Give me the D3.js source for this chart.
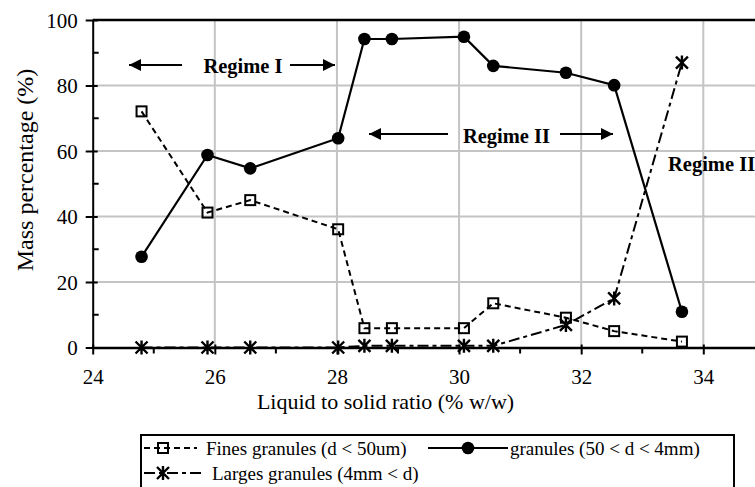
<!DOCTYPE html>
<html>
<head>
<meta charset="utf-8">
<script src="https://cdn.jsdelivr.net/npm/d3@7"></script>
<style>
  html, body { margin: 0; padding: 0; background: #fff; }
  svg { display: block; }
</style>
</head>
<body>
<svg id="chart" width="755" height="487"></svg>
<script>
// Liquid to solid ratio (% w/w) for each granulation run
const ratios = [24.8, 25.88, 26.58, 28.02, 28.45, 28.9, 30.08, 30.56, 31.75, 32.54, 33.65];
// Mass percentage (%) per size class
const fines    = [72.1, 41.2, 45.0, 36.1, 5.9, 5.9, 5.9, 13.5, 9.1, 5.0, 1.8];
const granules = [27.7, 58.8, 54.7, 63.9, 94.2, 94.2, 94.9, 86.0, 83.9, 80.1, 10.9];
const larges   = [0, 0, 0, 0, 0.5, 0.5, 0.5, 0.5, 6.9, 15.0, 87.0];

const xTicks = [24, 26, 28, 30, 32, 34];
const yTicks = [0, 20, 40, 60, 80, 100];
const xMinor = [25, 27, 29, 31, 33, 35];
const yMinor = [10, 30, 50, 70, 90];

const seriesNames = ["Fines granules (d < 50um)", "granules (50 < d < 4mm)", "Larges granules (4mm < d)"];
const regimes = ["Regime I", "Regime II", "Regime III"];

const FONT = '"Liberation Serif"';

const svg = d3.select("#chart");

const plotLeft = 92.7, plotTop = 20, plotBottom = 347.5;
const x = d3.scaleLinear().domain([24, 36]).range([plotLeft, plotLeft + 12 * 61.06]);
const y = d3.scaleLinear().domain([0, 100]).range([plotBottom, plotTop]);

function label(sel, size, weight) {
  return sel.style("font-family", FONT).style("font-size", size + "px")
    .style("font-weight", weight || "normal").attr("fill", "#000");
}

// grid
const grid = svg.append("g").attr("stroke", "#c4c4c4").attr("stroke-width", 2);
grid.selectAll("line.v").data(xTicks.slice(1)).join("line").attr("class", "v")
  .attr("x1", d => x(d)).attr("x2", d => x(d))
  .attr("y1", plotTop).attr("y2", plotBottom);
grid.selectAll("line.h").data(yTicks.slice(1, -1)).join("line").attr("class", "h")
  .attr("x1", plotLeft).attr("x2", x(36))
  .attr("y1", d => y(d)).attr("y2", d => y(d));

// top frame line
svg.append("line").attr("x1", plotLeft).attr("x2", x(36))
  .attr("y1", y(100)).attr("y2", y(100))
  .attr("stroke", "#000").attr("stroke-width", 2.5);

// y axis
const yAxis = svg.append("g").attr("transform", `translate(${plotLeft},0)`);
yAxis.call(d3.axisLeft(y).tickValues(yTicks).tickSize(7).tickSizeOuter(0).tickFormat(d3.format("d")));
yAxis.attr("font-family", FONT);
yAxis.select(".domain").attr("stroke", "#000").attr("stroke-width", 2);
yAxis.selectAll(".tick line").attr("stroke-width", 2).attr("x2", -7).attr("x1", 5);
label(yAxis.selectAll(".tick text"), 21).attr("x", -15).attr("dy", "0.34em");
yAxis.selectAll("line.minor").data(yMinor).join("line").attr("class", "minor")
  .attr("x1", 0).attr("x2", 6).attr("y1", d => y(d)).attr("y2", d => y(d))
  .attr("stroke", "#000").attr("stroke-width", 2);

// x axis
const xAxis = svg.append("g").attr("transform", `translate(0,${plotBottom})`);
xAxis.call(d3.axisBottom(x).tickValues(xTicks).tickSize(7).tickSizeOuter(0).tickFormat(d3.format("d")));
xAxis.attr("font-family", FONT);
xAxis.select(".domain").attr("stroke", "#000").attr("stroke-width", 2.5);
xAxis.selectAll(".tick line").attr("stroke-width", 2).attr("y1", -3).attr("y2", 7);
label(xAxis.selectAll(".tick text"), 21).attr("y", 36.5).attr("dy", null);
xAxis.selectAll("line.minor").data(xMinor).join("line").attr("class", "minor")
  .attr("x1", d => x(d)).attr("x2", d => x(d)).attr("y1", 0).attr("y2", 6)
  .attr("stroke", "#000").attr("stroke-width", 2);

// axis titles
label(svg.append("text"), 22).attr("x", 385.5).attr("y", 409).attr("text-anchor", "middle")
  .text("Liquid to solid ratio (% w/w)");
label(svg.append("text"), 24).attr("transform", "translate(33,170) rotate(-90)")
  .attr("text-anchor", "middle").text("Mass percentage (%)");

// series lines
const pts = vals => ratios.map((r, i) => [r, vals[i]]);
const line = d3.line().x(d => x(d[0])).y(d => y(d[1]));

svg.append("path").attr("d", line(pts(fines))).attr("fill", "none")
  .attr("stroke", "#000").attr("stroke-width", 2).attr("stroke-dasharray", "6,4");
svg.append("path").attr("d", line(pts(larges))).attr("fill", "none")
  .attr("stroke", "#000").attr("stroke-width", 2).attr("stroke-dasharray", "11,4,4,4");
svg.append("path").attr("d", line(pts(granules))).attr("fill", "none")
  .attr("stroke", "#000").attr("stroke-width", 2.2);

// marker shapes
function square(g) {
  g.append("rect").attr("x", -5).attr("y", -5).attr("width", 10).attr("height", 10)
    .attr("fill", "none").attr("stroke", "#000").attr("stroke-width", 2);
}
function star(g) {
  g.append("path").attr("d", "M-6,-6L6,6M-6,6L6,-6M0,-7L0,7")
    .attr("stroke", "#000").attr("stroke-width", 2.4).attr("fill", "none");
}
function dot(g) {
  g.append("circle").attr("r", 6.3).attr("fill", "#000");
}

svg.append("g").selectAll("g").data(pts(fines)).join("g")
  .attr("transform", d => `translate(${x(d[0])},${y(d[1])})`).each(function () { square(d3.select(this)); });
svg.append("g").selectAll("g").data(pts(larges)).join("g")
  .attr("transform", d => `translate(${x(d[0])},${y(d[1])})`).each(function () { star(d3.select(this)); });
svg.append("g").selectAll("g").data(pts(granules)).join("g")
  .attr("transform", d => `translate(${x(d[0])},${y(d[1])})`).each(function () { dot(d3.select(this)); });

// regime annotations with arrows
const defs = svg.append("defs");
defs.append("marker").attr("id", "arrowhead").attr("viewBox", "0 0 10 10")
  .attr("refX", 10).attr("refY", 5).attr("markerWidth", 7).attr("markerHeight", 6)
  .attr("markerUnits", "strokeWidth").attr("orient", "auto")
  .append("path").attr("d", "M0,0L10,5L0,10Z").attr("fill", "#000");

function arrow(x1, x2, yy) {
  svg.append("line").attr("x1", x1).attr("x2", x2).attr("y1", yy).attr("y2", yy)
    .attr("stroke", "#000").attr("stroke-width", 2).attr("marker-end", "url(#arrowhead)");
}
label(svg.append("text"), 20.5, "bold").attr("x", 243).attr("y", 73).attr("text-anchor", "middle")
  .text(regimes[0]);
arrow(182, 129, 65); arrow(290, 335, 65);

label(svg.append("text"), 20.5, "bold").attr("x", 506.5).attr("y", 142.5).attr("text-anchor", "middle")
  .text(regimes[1]);
arrow(448, 369, 134); arrow(560, 613, 134);

label(svg.append("text"), 20.5, "bold").attr("x", 668).attr("y", 170.5)
  .text(regimes[2]);

// legend
const lg = svg.append("g");
lg.append("rect").attr("x", 141).attr("y", 435).attr("width", 593).attr("height", 70)
  .attr("fill", "#fff").attr("stroke", "#000").attr("stroke-width", 2);

const r1 = 448, r2 = 473;
lg.append("line").attr("x1", 144).attr("x2", 197).attr("y1", r1).attr("y2", r1)
  .attr("stroke", "#000").attr("stroke-width", 2).attr("stroke-dasharray", "6,4");
square(lg.append("g").attr("transform", `translate(163,${r1})`));
label(lg.append("text"), 19).attr("x", 206).attr("y", 454.5).text(seriesNames[0]);

lg.append("line").attr("x1", 428).attr("x2", 508).attr("y1", r1).attr("y2", r1)
  .attr("stroke", "#000").attr("stroke-width", 2.2);
dot(lg.append("g").attr("transform", `translate(468,${r1})`));
label(lg.append("text"), 19).attr("x", 510).attr("y", 454.5).text(seriesNames[1]);

lg.append("line").attr("x1", 144).attr("x2", 203).attr("y1", r2).attr("y2", r2)
  .attr("stroke", "#000").attr("stroke-width", 2).attr("stroke-dasharray", "11,4,4,4");
star(lg.append("g").attr("transform", `translate(163,${r2})`));
label(lg.append("text"), 19).attr("x", 212).attr("y", 480).text(seriesNames[2]);
</script>
</body>
</html>
